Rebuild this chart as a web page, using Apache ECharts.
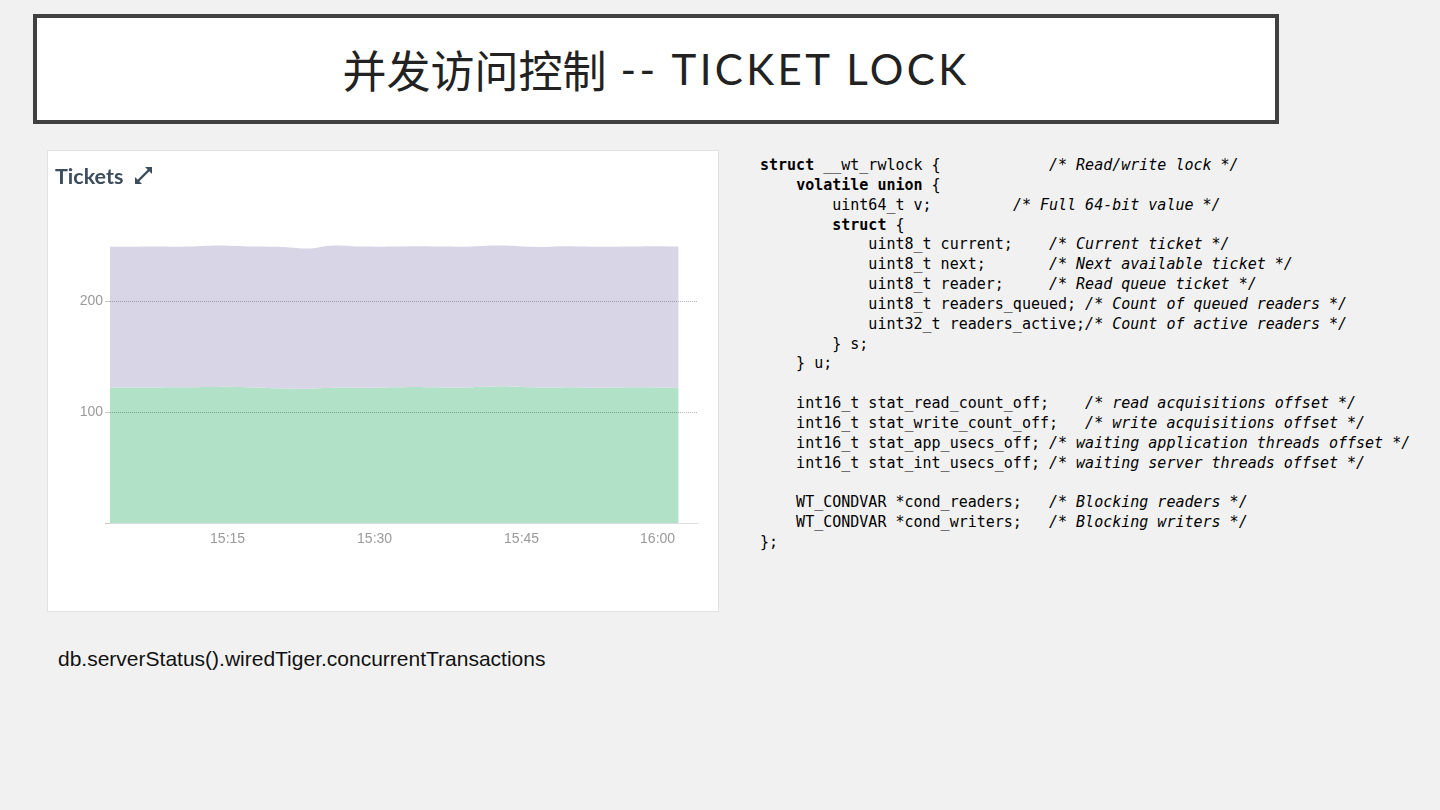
<!DOCTYPE html>
<html>
<head>
<meta charset="utf-8">
<script src="https://cdn.jsdelivr.net/npm/echarts@6/dist/echarts.min.js"></script>
<style>
  html, body { margin: 0; padding: 0; }
  body { width: 1440px; height: 810px; background: #f1f1f1; position: relative; overflow: hidden; }
  .titlebox { position: absolute; left: 33px; top: 14px; width: 1246px; height: 110px; box-sizing: border-box;
    border: 4px solid #404040; background: #fff; display: flex; align-items: center; justify-content: center; }
  .titlebox .zh { font-family: "Noto Sans CJK SC"; font-size: 44px; color: #222; font-weight: 400; }
  .titlebox .en { font-family: Lato, "Open Sans", sans-serif; font-size: 42px; color: #222; font-weight: 400; letter-spacing: 3.4px; }
  .panel { position: absolute; left: 47px; top: 150px; width: 672px; height: 462px; box-sizing: border-box;
    border: 1px solid #e2e2e2; background: #fff; }
  #chart { position: absolute; left: 48px; top: 151px; width: 670px; height: 460px; }
  pre.code { position: absolute; left: 760px; top: 156px; margin: 0; font-family: "DejaVu Sans Mono", "Liberation Mono", monospace;
    font-size: 15px; line-height: 19.85px; color: #000; }
  pre.code b { font-weight: bold; }
  pre.code i { font-style: italic; }
  .caption { position: absolute; left: 58px; top: 646px; font-family: "Liberation Sans", Arial, sans-serif; font-size: 21px;
    line-height: 26px; color: #111; }
</style>
</head>
<body>
<div class="titlebox"><span class="zh">并发访问控制</span><span class="en">&nbsp;-- TICKET LOCK</span></div>
<div class="panel"></div>
<div id="chart"></div>
<pre class="code"><b>struct</b> __wt_rwlock {            <i>/* Read/write lock */</i>
    <b>volatile union</b> {
        uint64_t v;         <i>/* Full 64-bit value */</i>
        <b>struct</b> {
            uint8_t current;    <i>/* Current ticket */</i>
            uint8_t next;       <i>/* Next available ticket */</i>
            uint8_t reader;     <i>/* Read queue ticket */</i>
            uint8_t readers_queued; <i>/* Count of queued readers */</i>
            uint32_t readers_active;<i>/* Count of active readers */</i>
        } s;
    } u;

    int16_t stat_read_count_off;    <i>/* read acquisitions offset */</i>
    int16_t stat_write_count_off;   <i>/* write acquisitions offset */</i>
    int16_t stat_app_usecs_off; <i>/* waiting application threads offset */</i>
    int16_t stat_int_usecs_off; <i>/* waiting server threads offset */</i>

    WT_CONDVAR *cond_readers;   <i>/* Blocking readers */</i>
    WT_CONDVAR *cond_writers;   <i>/* Blocking writers */</i>
};</pre>
<div class="caption">db.serverStatus().wiredTiger.concurrentTransactions</div>
<script>
// Time categories (one per minute)
const times = [
  "15:03","15:04","15:05","15:06","15:07","15:08","15:09","15:10","15:11","15:12",
  "15:13","15:14","15:15","15:16","15:17","15:18","15:19","15:20","15:21","15:22",
  "15:23","15:24","15:25","15:26","15:27","15:28","15:29","15:30","15:31","15:32",
  "15:33","15:34","15:35","15:36","15:37","15:38","15:39","15:40","15:41","15:42",
  "15:43","15:44","15:45","15:46","15:47","15:48","15:49","15:50","15:51","15:52",
  "15:53","15:54","15:55","15:56","15:57","15:58","15:59","16:00","16:01","16:02","16:03"
];
const tickLabels = ["15:15", "15:30", "15:45", "16:00"];
const yTickValues = [0, 100, 200];
const yLabelValues = [100, 200];

// Read tickets available (green, bottom)
const readTickets = [
  121.8,122.0,122.1,122.0,121.9,122.0,122.2,122.3,122.3,122.4,
  122.5,122.6,122.7,122.5,122.3,122.0,121.7,121.4,121.2,121.0,
  120.9,121.2,121.6,121.9,122.0,121.9,121.8,121.9,122.1,122.3,
  122.4,122.5,122.4,122.2,122.0,121.9,122.1,122.4,122.7,123.0,
  123.2,123.0,122.6,122.3,122.1,122.0,122.1,122.2,122.1,121.9,
  121.8,121.9,122.0,122.2,122.3,122.2,122.0,121.9,121.8
];
// Write tickets available (purple, stacked on top)
const writeTickets = [
  127.1,126.8,126.7,126.9,127.1,127.0,126.7,126.6,126.8,127.0,
  127.2,127.3,127.1,127.0,126.9,127.0,127.2,127.4,127.2,126.8,
  126.3,126.6,127.7,128.0,127.7,127.3,127.2,127.0,126.8,126.7,
  126.7,126.8,127.0,127.0,127.0,127.0,126.8,126.8,126.9,126.9,
  126.8,126.7,126.6,126.5,126.5,126.9,127.2,127.1,126.9,127.0,
  127.1,127.0,126.9,126.8,126.9,127.2,127.3,127.2,127.2
];

const chart = echarts.init(document.getElementById('chart'), null, { renderer: 'canvas' });
const slate = '#3d4d5c';
chart.setOption({
  animation: false,
  backgroundColor: 'transparent',
  title: {
    text: 'Tickets', left: 2, top: 10,
    textStyle: { fontFamily: 'Lato', fontWeight: 'bold', fontSize: 21.5, color: slate }
  },
  graphic: [
    { type: 'line', shape: { x1: 90, y1: 30, x2: 101, y2: 19 }, style: { stroke: slate, lineWidth: 2.4 } },
    { type: 'polygon', shape: { points: [[104, 16], [97, 16], [104, 23]] }, style: { fill: slate } },
    { type: 'polygon', shape: { points: [[87, 33], [94, 33], [87, 26]] }, style: { fill: slate } }
  ],
  grid: { left: 62, right: 20, top: 39, bottom: 88, containLabel: false, outerBoundsMode: 'none' },
  xAxis: {
    type: 'category',
    data: times,
    boundaryGap: false,
    z: 5,
    axisLine: { show: true, lineStyle: { color: '#dedede', width: 1 } },
    axisTick: { show: false },
    splitLine: { show: false },
    axisLabel: {
      interval: (idx, val) => tickLabels.indexOf(val) >= 0,
      color: '#9a9a9a', fontSize: 14, fontFamily: 'Liberation Sans', margin: 9,
      formatter: (val) => val === '16:00' ? '{last|' + val + '}' : val,
      rich: { last: { padding: [0, 22, 0, 0], color: '#9a9a9a', fontSize: 14, fontFamily: 'Liberation Sans' } }
    }
  },
  yAxis: {
    type: 'value',
    min: 0, max: 300, interval: 100,
    z: 10,
    axisLine: { show: false },
    axisTick: { show: true, length: 5, customValues: yTickValues, lineStyle: { color: '#c8c8c8' } },
    axisLabel: { customValues: yLabelValues, color: '#9a9a9a', fontSize: 14, fontFamily: 'Liberation Sans', margin: 7 },
    splitLine: { show: true, showMinLine: false, lineStyle: { type: 'dotted', color: 'rgba(0,0,0,0.28)', width: 1 } }
  },
  series: [
    {
      name: 'Read Tickets Available', type: 'line', stack: 'tickets', data: readTickets,
      z: 1, smooth: 0.3, symbol: 'none', lineStyle: { width: 0 },
      areaStyle: { color: '#b1e2c7', opacity: 1 }
    },
    {
      name: 'Write Tickets Available', type: 'line', stack: 'tickets', data: writeTickets,
      z: 1, smooth: 0.3, symbol: 'none', lineStyle: { width: 0 },
      areaStyle: { color: '#d8d5e7', opacity: 1 }
    }
  ]
});
</script>
</body>
</html>
